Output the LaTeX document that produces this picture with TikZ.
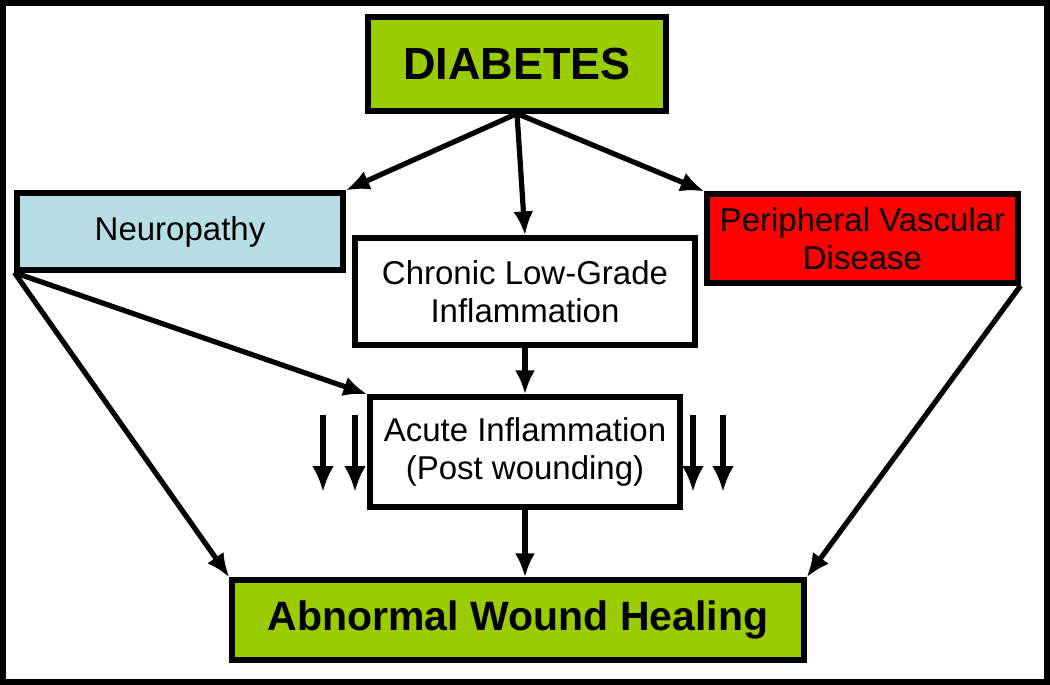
\documentclass[tikz,border=0pt]{standalone}
\usepackage{fontspec}
\setmainfont{Liberation Sans}
\usepackage{xcolor}
\usepackage{tikz}
\usetikzlibrary{arrows.meta}

\definecolor{diabgreen}{RGB}{154,204,0}
\definecolor{neuroblue}{RGB}{183,222,228}
\definecolor{pvdred}{RGB}{255,0,0}

\tikzset{
    box/.style={draw, line width=2.6pt, inner sep=0pt, align=center,
        font=\fontsize{16.5}{19}\selectfont},
    link/.style={line width=2.6pt, -{Latex[length=12pt,width=10pt]}},
    dnarrow/.style={line width=2.6pt, -{Latex[length=13pt,width=11pt]}}
}

\begin{document}
\begin{tikzpicture}[x=0.5pt, y=-0.5pt]
        \useasboundingbox (0,0) rectangle (1050,685);
        \draw[line width=3.2pt] (3,3) rectangle (1047,682);

        % Boxes
        \node[box, fill=diabgreen, minimum width=149pt, minimum height=47pt,
              font=\fontsize{22.5}{26}\selectfont\bfseries] (diab) at (517,64) {DIABETES};
        \node[box, fill=neuroblue, minimum width=163pt, minimum height=38.5pt] (neuro) at (180,231.5) {Neuropathy};
        \node[box, fill=white, minimum width=170pt, minimum height=53.5pt] (chronic) at (525,291.5) {Chronic Low-Grade\\Inflammation};
        \node[box, fill=pvdred, minimum width=155.5pt, minimum height=44.5pt] (pvd) at (862.5,238.5) {Peripheral Vascular\\Disease};
        \node[box, fill=white, minimum width=155pt, minimum height=55pt] (acute) at (525,452) {Acute Inflammation\\(Post wounding)};
        \node[box, fill=diabgreen, minimum width=286pt, minimum height=40pt,
              font=\fontsize{20.5}{24}\selectfont\bfseries] (abn) at (518,620) {Abnormal Wound Healing};

        % Diabetes arrows
        \draw[link] (diab.south) -- (neuro.north east);
        \draw[link] (diab.south) -- (chronic.north);
        \draw[link] (diab.south) -- (pvd.north west);

        % Neuropathy arrows
        \draw[link] (neuro.south west) -- (abn.north west);
        \draw[link] (neuro.south west) -- (acute.north west);

        % Inflammation
        \draw[link] (chronic.south) -- (acute.north);
        \draw[link] (acute.south) -- (acute.south |- abn.north);

        % PVD
        \draw[link] (pvd.south east) -- (abn.north east);

        % Decrease arrows
        \foreach \x in {323,355,693,723}
            \draw[dnarrow] (\x,415) -- (\x,492);
    \end{tikzpicture}
\end{document}
